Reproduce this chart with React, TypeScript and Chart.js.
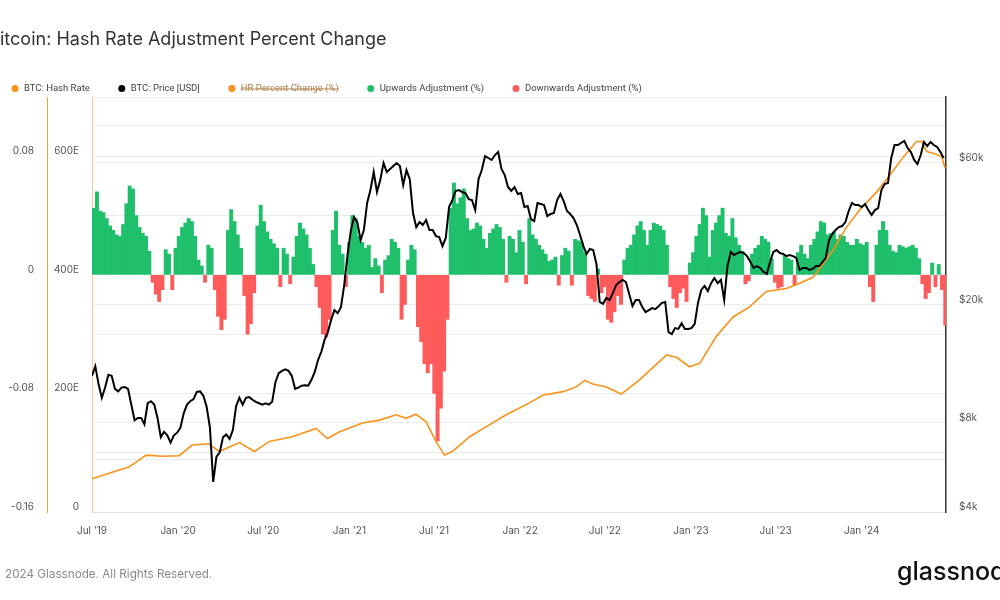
import React, { useEffect, useRef } from 'react';
import { Chart, registerables } from 'chart.js';

Chart.register(...registerables);

// Day offsets are counted from 2019-07-01 (UTC).
const START = Date.UTC(2019, 6, 1);
const DAY = 86400000;

// X-axis ticks
const tickDates = ['2019-07-01', '2020-01-01', '2020-07-01', '2021-01-01', '2021-07-01', '2022-01-01', '2022-07-01', '2023-01-01', '2023-07-01', '2024-01-01'];
const tickLabels = ["Jul '19", "Jan '20", "Jul '20", "Jan '21", "Jul '21", "Jan '22", "Jul '22", "Jan '23", "Jul '23", "Jan '24"];

// Weekly hash-rate adjustment percent change (fraction), one value per week from 2019-07-01
const pctChange = [
  0.045, 0.056, 0.043, 0.042, 0.038, 0.033, 0.030, 0.027, 0.026, 0.034,
  0.048, 0.060, 0.058, 0.040, 0.032, 0.028, 0.026, 0.016, -0.005, -0.013,
  -0.018, -0.010, 0.017, 0.014, -0.010, 0.018, 0.026, 0.032, 0.035, 0.038,
  0.036, 0.026, 0.010, 0.006, -0.005, 0.020, 0.018, -0.010, -0.028, -0.037,
  -0.030, 0.030, 0.044, 0.036, 0.027, 0.018, -0.014, -0.040, -0.033, -0.012,
  0.033, 0.047, 0.036, 0.029, 0.024, 0.021, 0.018, -0.008, 0.018, 0.014,
  -0.006, 0.012, 0.026, 0.035, 0.031, 0.027, 0.018, 0.007, -0.008, -0.022,
  -0.040, -0.042, -0.030, 0.030, 0.043, 0.020, 0.014, -0.008, 0.022, 0.040,
  0.038, 0.026, 0.022, 0.018, 0.020, 0.005, 0.011, 0.006, -0.012, 0.010,
  0.013, 0.024, 0.022, 0.018, -0.030, -0.020, 0.010, 0.020, 0.017, -0.035,
  -0.045, -0.060, -0.066, -0.060, -0.080, -0.112, -0.090, -0.065, -0.030, 0.045,
  0.062, 0.048, 0.052, 0.058, 0.038, 0.030, 0.031, 0.035, 0.033, 0.024,
  0.018, 0.028, 0.031, 0.034, 0.032, 0.024, -0.005, 0.026, 0.024, 0.015,
  0.030, 0.022, -0.006, 0.038, 0.027, 0.024, 0.020, 0.017, 0.014, 0.009,
  0.010, 0.012, -0.007, 0.013, 0.018, 0.016, -0.007, 0.024, 0.023, 0.022,
  0.015, -0.014, -0.016, -0.018, 0.004, -0.012, -0.008, -0.030, -0.032, -0.025,
  -0.014, -0.020, 0.010, 0.018, 0.020, 0.027, 0.033, 0.036, 0.030, 0.020,
  0.030, 0.035, 0.034, 0.033, 0.030, 0.020, -0.008, -0.016, -0.022, -0.012,
  -0.009, -0.018, 0.008, 0.015, 0.026, 0.034, 0.045, 0.040, 0.012, 0.030,
  0.035, 0.040, 0.045, 0.028, 0.026, 0.038, 0.025, 0.020, 0.016, -0.006,
  -0.004, 0.014, 0.018, 0.020, 0.026, 0.024, 0.022, 0.011, -0.005, -0.009,
  -0.008, 0.013, 0.011, 0.010, -0.007, 0.015, 0.020, 0.014, 0.011, 0.020,
  0.024, 0.029, 0.036, 0.035, 0.027, 0.028, 0.029, 0.024, 0.027, 0.026,
  0.022, 0.020, 0.020, 0.024, 0.021, 0.020, 0.022, -0.008, -0.018, 0.020,
  0.030, 0.036, 0.030, 0.020, 0.016, 0.015, 0.020, 0.019, 0.018, 0.019,
  0.020, 0.018, 0.011, -0.006, -0.016, -0.012, 0.008, -0.008, 0.007, -0.010,
  -0.034,
];

// Weekly BTC price in USD, one value per week from 2019-07-01
const btcPrice = [
  11500, 12400, 10800, 9700, 10500, 11600, 11500, 10400, 10200, 10500,
  10550, 10400, 9200, 8150, 8300, 8300, 7900, 9300, 9450, 9200,
  8300, 7150, 7450, 7250, 6850, 7250, 7400, 7700, 8600, 9200,
  9450, 9600, 10150, 10200, 9850, 9050, 7700, 5050, 6150, 6350,
  7150, 7300, 7050, 7550, 9100, 9700, 9200, 9700, 9750, 9550,
  9400, 9300, 9200, 9300, 9200, 9400, 10950, 11750, 11950, 12100,
  11950, 11500, 10400, 10500, 10650, 10700, 10650, 11150, 11850, 13000,
  13850, 15200, 16150, 17750, 19150, 18700, 19600, 23250, 29350, 35350,
  39400, 37900, 32950, 35650, 43950, 48600, 55900, 47850, 52500, 59900,
  55900, 57200, 58550, 59900, 58550, 50500, 56750, 52900, 40650, 36450,
  37900, 37050, 38500, 35650, 35650, 34000, 33750, 31450, 33500, 42600,
  44950, 48250, 48600, 47850, 47500, 45300, 44950, 41600, 52900, 56750,
  63250, 62300, 61350, 63750, 65250, 57200, 54600, 49750, 48250, 49750,
  47100, 47500, 42600, 42900, 38800, 38200, 43950, 43600, 43250, 39700,
  40350, 40650, 44950, 47100, 44600, 41300, 40350, 39100, 37050, 34300,
  31450, 29600, 30750, 30500, 27400, 20400, 20100, 21050, 20700, 21850,
  23250, 23800, 24200, 23800, 21700, 19750, 20700, 20700, 19600, 18850,
  19150, 19450, 19300, 19750, 20250, 20400, 16150, 15900, 16650, 16550,
  17300, 16550, 16550, 16650, 17200, 20250, 22400, 23100, 22200, 23600,
  24550, 23600, 24200, 20700, 26950, 30050, 29350, 29800, 30050, 29800,
  29100, 27800, 26550, 26950, 26550, 25750, 25350, 27800, 30050, 30500,
  29800, 29600, 29100, 29350, 29100, 28700, 26150, 26550, 26550, 26150,
  26350, 26950, 26950, 27800, 28700, 32950, 34550, 35650, 36450, 36750,
  37900, 41300, 43950, 43250, 43250, 42600, 43600, 41600, 40050, 41600,
  42250, 48600, 50900, 51300, 62300, 68900, 68900, 70000, 71100, 67300,
  65250, 61350, 59450, 63750, 70550, 68350, 70550, 68900, 67850, 65250,
  62300,
];

// BTC hash rate (EH/s) at the given day offsets
const hashDays = [
  0, 43, 79, 101, 116, 150, 186, 214, 250, 272, 315, 347, 379, 428, 479, 503, 528, 578, 614, 650,
  671, 692, 714, 735, 753, 770, 807, 849, 885, 935, 963, 1006, 1035, 1053, 1070, 1099, 1131, 1170, 1228, 1249,
  1277, 1299, 1334, 1370, 1405, 1441, 1484, 1512, 1541, 1584, 1613, 1641, 1677, 1705, 1734, 1762, 1773, 1784, 1798, 1816,
  1823,
];
const hashRate = [
  56, 67, 76, 88, 96, 94, 95, 113, 115, 102, 117, 102, 119, 127, 141, 124, 135, 150, 155, 164,
  158, 165, 152, 119, 96, 102, 127, 147, 164, 184, 197, 203, 211, 222, 216, 211, 199, 223, 265, 261,
  245, 251, 296, 329, 346, 372, 377, 386, 396, 442, 481, 510, 540, 568, 599, 625, 625, 608, 605, 599,
  580,
];

// Axis ticks
const pctGrid = [-0.16, -0.12, -0.08, -0.04, 0, 0.04, 0.08, 0.12];
const pctLabelled = [-0.16, -0.08, 0, 0.08];
const hashTickValues = [0, 200, 400, 600];
const hashTickLabels = ['0', '200E', '400E', '600E'];
const priceGrid = [4000, 6000, 8000, 10000, 20000, 40000, 60000, 80000, 100000];
const priceTickValues = [4000, 8000, 20000, 60000];
const priceTickLabels = ['$4k', '$8k', '$20k', '$60k'];

const ORANGE = '#f7931a';
const GREEN = '#1fbf6c';
const RED = '#ff5b5b';
const FONT = 'Inter';

const toDay = (s: string) => Math.round((Date.parse(s + 'T00:00:00Z') - START) / DAY);
const tickDays = tickDates.map(toDay);

const weekCenter = (i: number) => 7 * i + 3.5;

// Title, custom legend, footer and logo drawn around the plot
const frame = {
  id: 'frame',
  afterDraw(chart: any) {
    const ctx = chart.ctx as CanvasRenderingContext2D;
    ctx.save();

    ctx.font = `400 18px ${FONT}`;
    ctx.fillStyle = '#333';
    ctx.textBaseline = 'alphabetic';
    ctx.textAlign = 'left';
    const title = 'Bitcoin: Hash Rate Adjustment Percent Change';
    ctx.fillText(title, -ctx.measureText('B').width, 45);

    ctx.font = '400 9.5px Roboto';
    ctx.textBaseline = 'middle';
    const ly = 88.5;
    let lx = 11.5;
    chart.data.datasets.forEach((ds: any, i: number) => {
      const visible = chart.isDatasetVisible(i);
      ctx.fillStyle = ds.legendColor;
      ctx.beginPath();
      ctx.arc(lx + 3.5, ly, 3.5, 0, Math.PI * 2);
      ctx.fill();
      const tx = lx + 12.5;
      const w = ctx.measureText(ds.label).width;
      ctx.fillStyle = visible ? '#444' : '#b0824f';
      ctx.fillText(ds.label, tx, ly);
      if (!visible) {
        ctx.strokeStyle = '#b0824f';
        ctx.lineWidth = 1;
        ctx.beginPath();
        ctx.moveTo(tx, ly + 0.5);
        ctx.lineTo(tx + w, ly + 0.5);
        ctx.stroke();
      }
      lx = tx + w + 28.5;
    });

    ctx.font = `400 11.7px ${FONT}`;
    ctx.fillStyle = '#8a8a8a';
    ctx.textBaseline = 'alphabetic';
    ctx.fillText('\u00a9', -12, 578);
    ctx.fillText('2024 Glassnode. All Rights Reserved.', 5, 578);

    ctx.font = `500 25px ${FONT}`;
    ctx.fillStyle = '#111';
    ctx.fillText('glassnode', 897, 580);

    ctx.restore();
  },
};

const tickFont = { family: FONT, size: 10 };

export default function App() {
  const ref = useRef<HTMLCanvasElement>(null);

  useEffect(() => {
    const hashData = hashDays.map((d, i) => ({ x: d, y: hashRate[i] }));
    const priceData = btcPrice.map((v, i) => ({ x: 7 * i, y: v }));
    const pctData = pctChange.map((v, i) => ({ x: weekCenter(i), y: v }));
    const upData = pctChange.map((v, i) => ({ x: weekCenter(i), y: v > 0 ? v : null }));
    const downData = pctChange.map((v, i) => ({ x: weekCenter(i), y: v < 0 ? v : null }));

    const chart = new Chart(ref.current as HTMLCanvasElement, {
      type: 'bar',
      data: {
        datasets: [
          {
            type: 'line', label: 'BTC: Hash Rate', data: hashData, yAxisID: 'yHash',
            borderColor: ORANGE, borderWidth: 1.6, pointRadius: 0, order: 1, legendColor: ORANGE,
          } as any,
          {
            type: 'line', label: 'BTC: Price [USD]', data: priceData, yAxisID: 'yPrice',
            borderColor: '#000', borderWidth: 2, pointRadius: 0, order: 0, legendColor: '#000',
          } as any,
          {
            type: 'line', label: 'HR Percent Change (%)', data: pctData, yAxisID: 'yPct',
            borderColor: ORANGE, borderWidth: 1, pointRadius: 0, hidden: true, order: 1, legendColor: ORANGE,
          } as any,
          {
            type: 'bar', label: 'Upwards Adjustment (%)', data: upData, yAxisID: 'yPct',
            backgroundColor: GREEN, borderWidth: 0, grouped: false, barPercentage: 1, categoryPercentage: 1,
            order: 2, legendColor: GREEN,
          } as any,
          {
            type: 'bar', label: 'Downwards Adjustment (%)', data: downData, yAxisID: 'yPct',
            backgroundColor: RED, borderWidth: 0, grouped: false, barPercentage: 1, categoryPercentage: 1,
            order: 2, legendColor: RED,
          } as any,
        ],
      },
      options: {
        animation: false,
        responsive: false,
        layout: { padding: { top: 97, left: 0, right: 0, bottom: 0 } },
        plugins: { legend: { display: false }, tooltip: { enabled: false }, title: { display: false } },
        scales: {
          x: {
            type: 'linear', position: 'bottom', min: 0, max: 1825, offset: false,
            afterBuildTicks: (s: any) => { s.ticks = tickDays.map((value) => ({ value })); },
            afterFit: (s: any) => { s.height = 88; },
            ticks: {
              autoSkip: false, maxRotation: 0, padding: 13, color: '#555', font: tickFont,
              callback: (v: any) => { const k = tickDays.indexOf(Number(v)); return k >= 0 ? tickLabels[k] : ''; },
            },
            grid: { offset: false, drawOnChartArea: false, drawTicks: false, color: '#eee' },
            border: { color: '#e2e2e2' },
          },
          yPct: {
            type: 'linear', position: 'left', weight: 1, min: -0.16, max: 0.12,
            afterBuildTicks: (s: any) => { s.ticks = pctGrid.map((value) => ({ value })); },
            afterFit: (s: any) => { s.width = 47; },
            ticks: {
              padding: 13, labelOffset: -5, color: '#555', font: tickFont,
              callback: (v: any) => {
                const hit = pctLabelled.find((p) => Math.abs(p - Number(v)) < 1e-9);
                return hit === undefined ? '' : String(hit);
              },
            },
            grid: { color: '#ebebeb', drawTicks: false },
            border: { color: '#f7a035' },
          },
          yHash: {
            type: 'linear', position: 'left', weight: 0, min: 0, max: 700,
            afterBuildTicks: (s: any) => { s.ticks = hashTickValues.map((value) => ({ value })); },
            afterFit: (s: any) => { s.width = 45; },
            ticks: {
              padding: 13, labelOffset: -5, color: '#555', font: tickFont,
              callback: (v: any) => { const k = hashTickValues.indexOf(Number(v)); return k >= 0 ? hashTickLabels[k] : ''; },
            },
            grid: { drawOnChartArea: false, drawTicks: false },
            border: { color: '#fbc88c' },
          },
          yPrice: {
            type: 'logarithmic', position: 'right', min: 4000, max: 100000,
            afterBuildTicks: (s: any) => { s.ticks = priceGrid.map((value) => ({ value })); },
            afterFit: (s: any) => { s.width = 54; },
            ticks: {
              padding: 13, labelOffset: -5, color: '#555', font: tickFont,
              callback: (v: any) => { const k = priceTickValues.indexOf(Number(v)); return k >= 0 ? priceTickLabels[k] : ''; },
            },
            grid: { color: '#ebebeb', drawTicks: false },
            border: { color: '#333', width: 1.5 },
          },
        },
      } as any,
      plugins: [frame],
    });

    return () => chart.destroy();
  }, []);

  return (
    <div style={{ position: 'fixed', left: 0, top: 0, width: 1000, height: 600, background: '#fff' }}>
      <canvas ref={ref} width={1000} height={600} style={{ display: 'block', width: 1000, height: 600 }} />
    </div>
  );
}
